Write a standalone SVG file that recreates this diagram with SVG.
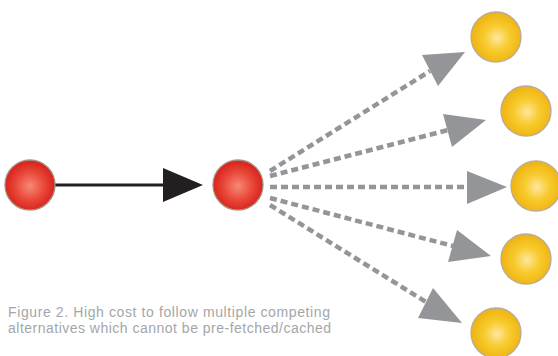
<svg xmlns="http://www.w3.org/2000/svg" width="558" height="356" viewBox="0 0 558 356">
  <defs>
    <radialGradient id="redBall" cx="50%" cy="52%" r="50%">
      <stop offset="0" stop-color="#f58a78"/>
      <stop offset="0.55" stop-color="#ea4a3a"/>
      <stop offset="1" stop-color="#d8221d"/>
    </radialGradient>
    <radialGradient id="yellowBall" cx="52%" cy="52%" r="50%">
      <stop offset="0" stop-color="#fde7a0"/>
      <stop offset="0.5" stop-color="#f8cb2e"/>
      <stop offset="1" stop-color="#efb513"/>
    </radialGradient>
  </defs>
  <style>
    .red { fill: url(#redBall); stroke: #a39080; stroke-width: 1.3; }
    .yellow { fill: url(#yellowBall); stroke: #b8ab98; stroke-width: 1.3; }
    .solid { stroke: #231f20; stroke-width: 3; fill: none; }
    .solid-head { fill: #231f20; }
    .dashed { stroke: #939598; stroke-width: 4.5; stroke-dasharray: 7 4; fill: none; }
    .dashed-head { fill: #939598; }
    .caption { font-family: "Liberation Sans", Arial, sans-serif; font-size: 14px; fill: #a4a6a9; }
  </style>

  <rect width="558" height="356" fill="#ffffff"/>

  <!-- connectors -->
  <g id="connectors">
    <line class="solid" x1="55" y1="185" x2="166" y2="185"/>
    <polygon class="solid-head" points="163,168 203,185 163,202"/>

    <line class="dashed" x1="270" y1="171" x2="430" y2="71"/>
    <polygon class="dashed-head" points="422,55 465,52 438,86"/>

    <line class="dashed" x1="270" y1="176" x2="448" y2="130"/>
    <polygon class="dashed-head" points="443,114 486,120 452,147"/>

    <line class="dashed" x1="270" y1="187" x2="468" y2="187"/>
    <polygon class="dashed-head" points="467,171 507,187 467,204"/>

    <line class="dashed" x1="270" y1="198" x2="453" y2="246"/>
    <polygon class="dashed-head" points="457,230 491,256 448,262"/>

    <line class="dashed" x1="270" y1="205" x2="426" y2="302"/>
    <polygon class="dashed-head" points="433,288 462,323 418,318"/>
  </g>

  <!-- nodes -->
  <g id="source"><circle class="red" cx="30" cy="185" r="25"/></g>
  <g id="current"><circle class="red" cx="238" cy="185" r="25"/></g>
  <g id="alt1"><circle class="yellow" cx="496" cy="37" r="25"/></g>
  <g id="alt2"><circle class="yellow" cx="526" cy="111" r="25"/></g>
  <g id="alt3"><circle class="yellow" cx="536" cy="186" r="25"/></g>
  <g id="alt4"><circle class="yellow" cx="526" cy="259" r="25"/></g>
  <g id="alt5"><circle class="yellow" cx="496" cy="333" r="25"/></g>

  <!-- caption -->
  <g id="caption">
    <text class="caption" x="8" y="317" textLength="322" lengthAdjust="spacing">Figure 2. High cost to follow multiple competing</text>
    <text class="caption" x="8" y="333" textLength="323" lengthAdjust="spacing">alternatives which cannot be pre-fetched/cached</text>
  </g>
</svg>
